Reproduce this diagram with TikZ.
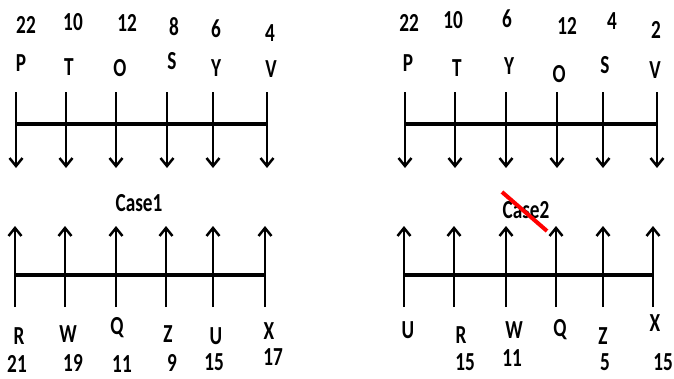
\documentclass[tikz,border=0pt]{standalone}
\usepackage{fontspec}
\setmainfont{Carlito}
\usetikzlibrary{arrows.meta}
\newcommand\sx[1]{\scalebox{0.74}[1]{#1}}
\begin{document}
\begin{tikzpicture}[x=1pt,y=-1pt,
  axis/.style={line width=3.2pt},
  tick/.style={line width=2.5pt,-{Straight Barb[length=8pt,width=13pt]}},
  lab/.style={inner sep=0pt,font=\fontsize{26}{26}\selectfont\bfseries}]
\useasboundingbox (0,0) rectangle (674,378);
% ---- left top
\foreach \n/\x in {1/16,2/66,3/116,4/167,5/213,6/267}{
  \coordinate (LTa\n) at (\x,92); \coordinate (LTb\n) at (\x,168);
  \draw[tick] (LTa\n) -- (LTb\n);}
\coordinate (LTl) at (16,124); \coordinate (LTr) at (267,124);
\draw[axis] (LTl) -- (LTr);
% ---- left bottom
\foreach \n/\x in {1/15,2/65,3/116,4/166,5/213,6/265}{
  \coordinate (LBa\n) at (\x,307); \coordinate (LBb\n) at (\x,226);
  \draw[tick] (LBa\n) -- (LBb\n);}
\coordinate (LBl) at (15,275); \coordinate (LBr) at (265,275);
\draw[axis] (LBl) -- (LBr);
% ---- right top
\foreach \n/\x in {1/405,2/455,3/506,4/557,5/603,6/657}{
  \coordinate (RTa\n) at (\x,92); \coordinate (RTb\n) at (\x,168);
  \draw[tick] (RTa\n) -- (RTb\n);}
\coordinate (RTl) at (405,124); \coordinate (RTr) at (657,124);
\draw[axis] (RTl) -- (RTr);
% ---- right bottom
\foreach \n/\x in {1/404,2/454,3/506,4/556,5/603,6/653}{
  \coordinate (RBa\n) at (\x,307); \coordinate (RBb\n) at (\x,226);
  \draw[tick] (RBa\n) -- (RBb\n);}
\coordinate (RBl) at (404,275); \coordinate (RBr) at (653,275);
\draw[axis] (RBl) -- (RBr);
% ---- left top labels
\node[lab] (n1) at (26,25) {\sx{22}};
\node[lab] (n2) at (73,22) {\sx{10}};
\node[lab] (n3) at (127,23) {\sx{12}};
\node[lab] (n4) at (174,27) {\sx{8}};
\node[lab] (n5) at (216,29) {\sx{6}};
\node[lab] (n6) at (270,33) {\sx{4}};
\node[lab] (l1) at (21,63) {\sx{P}};
\node[lab] (l2) at (69,67) {\sx{T}};
\node[lab] (l3) at (120,68) {\sx{O}};
\node[lab] (l4) at (172,61) {\sx{S}};
\node[lab] (l5) at (216,68) {\sx{Y}};
\node[lab] (l6) at (271,69) {\sx{V}};
% ---- left bottom labels
\node[lab] (case1) at (139,203) {\sx{Case1}};
\node[lab] (m1) at (19,336) {\sx{R}};
\node[lab] (m2) at (68,334) {\sx{W}};
\node[lab] (m3) at (117,328) {\sx{Q}};
\node[lab] (m4) at (168,334) {\sx{Z}};
\node[lab] (m5) at (216,336) {\sx{U}};
\node[lab] (m6) at (269,331) {\sx{X}};
\node[lab] (k1) at (17,364) {\sx{21}};
\node[lab] (k2) at (73,363) {\sx{19}};
\node[lab] (k3) at (122,364) {\sx{11}};
\node[lab] (k4) at (172,363) {\sx{9}};
\node[lab] (k5) at (214,362) {\sx{15}};
\node[lab] (k6) at (273,357) {\sx{17}};
% ---- right top labels
\node[lab] (rn1) at (409,23) {\sx{22}};
\node[lab] (rn2) at (453,20) {\sx{10}};
\node[lab] (rn3) at (507,19) {\sx{6}};
\node[lab] (rn4) at (567,26) {\sx{12}};
\node[lab] (rn5) at (612,21) {\sx{4}};
\node[lab] (rn6) at (656,30) {\sx{2}};
\node[lab] (rl1) at (408,63) {\sx{P}};
\node[lab] (rl2) at (457,68) {\sx{T}};
\node[lab] (rl3) at (509,66) {\sx{Y}};
\node[lab] (rl4) at (559,74) {\sx{O}};
\node[lab] (rl5) at (605,65) {\sx{S}};
\node[lab] (rl6) at (655,70) {\sx{V}};
% ---- right bottom labels
\node[lab] (case2) at (526,210) {\sx{Case2}};
\coordinate (s1) at (502,192); \coordinate (s2) at (547,231);
\draw[red, line width=4pt] (s1) -- (s2);
\node[lab] (rm1) at (408,330) {\sx{U}};
\node[lab] (rm2) at (461,335) {\sx{R}};
\node[lab] (rm3) at (514,330) {\sx{W}};
\node[lab] (rm4) at (560,330) {\sx{Q}};
\node[lab] (rm5) at (603,336) {\sx{Z}};
\node[lab] (rm6) at (655,323) {\sx{X}};
\node[lab] (rk2) at (465,362) {\sx{15}};
\node[lab] (rk3) at (512,358) {\sx{11}};
\node[lab] (rk5) at (605,362) {\sx{5}};
\node[lab] (rk6) at (663,362) {\sx{15}};
\end{tikzpicture}
\end{document}
